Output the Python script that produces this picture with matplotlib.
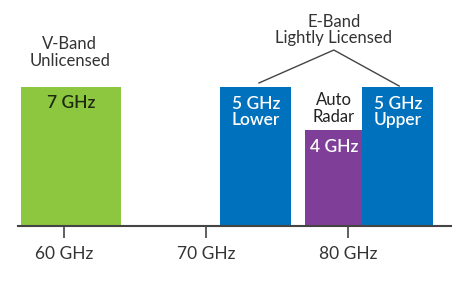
import matplotlib
matplotlib.use("Agg")
import matplotlib.pyplot as plt

plt.rcParams['font.family'] = ['Lato', 'DejaVu Sans']

# band data (GHz)
band_start = [57, 71, 77, 81]
band_width = [7, 5, 4, 5]
band_height = [1.0, 1.0, 0.69, 1.0]
band_label = ["7 GHz", "5 GHz\nLower", "4 GHz", "5 GHz\nUpper"]
band_colors = ["#8dc63f", "#0071bc", "#7f3f98", "#0071bc"]
label_colors = ["#1e2a10", "white", "white", "white"]
label_y = [0.885, 0.82, 0.57, 0.82]

tick_pos = [60, 70, 80]
tick_labels = ["60 GHz", "70 GHz", "80 GHz"]

fig = plt.figure(figsize=(4.62, 2.95), dpi=100)
ax = fig.add_axes([18 / 462, 69 / 295, 433 / 462, 226 / 295])

ax.bar(band_start, band_height, width=band_width, align='edge',
       color=band_colors, edgecolor='none')

for s, w, lab, c, y in zip(band_start, band_width, band_label, label_colors, label_y):
    ax.text(s + w / 2, y, lab, ha='center', va='center', color=c,
            fontsize=12.5, fontweight='semibold', linespacing=1.0)

ax.text(79, 0.845, "Auto\nRadar", ha='center', va='center', color='#222222',
        fontsize=12, linespacing=1.05)
ax.text(60.4, 1.25, "V-Band\nUnlicensed", ha='center', va='center', color='#333333',
        fontsize=12, linespacing=1.05)
ax.text(79, 1.41, "E-Band\nLightly Licensed", ha='center', va='center', color='#333333',
        fontsize=12, linespacing=1.05)

# bracket from E-Band label down to both E-Band bars
ax.plot([73.73, 79, 83.6], [1.029, 1.266, 1.007], color='#444444', lw=1.0)

ax.set_xlim(56.76, 87.25)
ax.set_ylim(0, 226 / 139)
ax.set_xticks(tick_pos)
ax.set_xticklabels(tick_labels, fontsize=12.5, color='#333333')
ax.tick_params(axis='x', direction='out', length=8.5, width=1.2, color='#444444', pad=6)
ax.set_yticks([])
for side in ['top', 'left', 'right']:
    ax.spines[side].set_visible(False)
ax.spines['bottom'].set_color('#444444')
ax.spines['bottom'].set_linewidth(1.5)

fig.savefig("out.png", dpi=100)
